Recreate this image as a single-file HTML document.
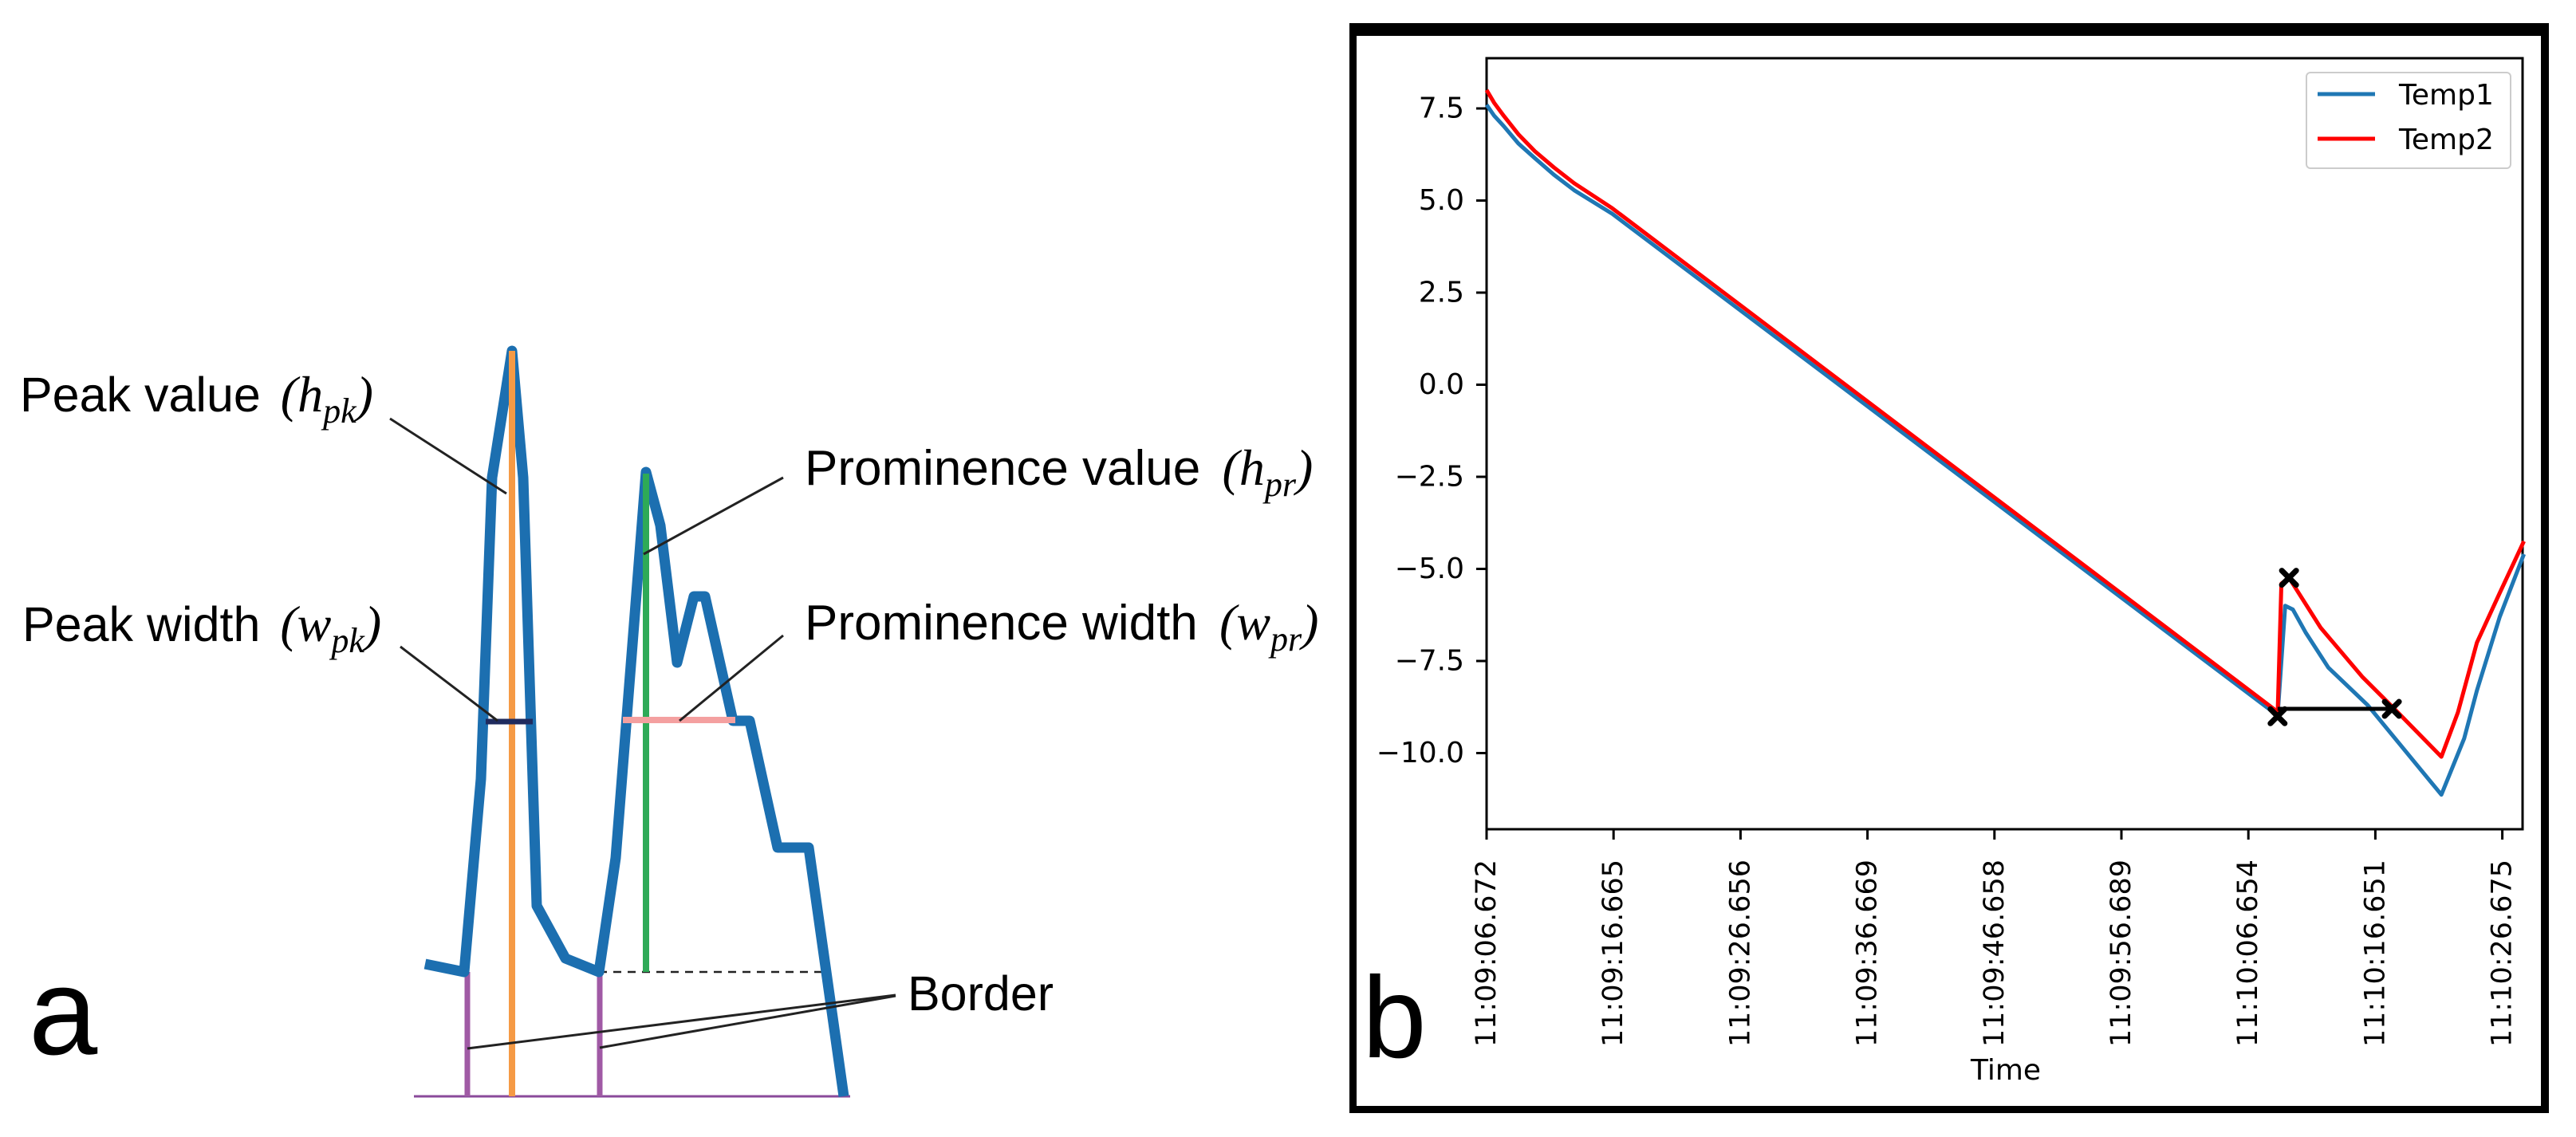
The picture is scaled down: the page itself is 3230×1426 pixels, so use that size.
<!DOCTYPE html>
<html><head><meta charset="utf-8"><style>
html,body{margin:0;padding:0;background:#fff;}
svg{display:block;}
.sans{font-family:"Liberation Sans",sans-serif;}
.dv{font-family:"DejaVu Sans","Liberation Sans",sans-serif;}
.math{font-family:"Liberation Serif",serif;font-style:italic;}
</style></head><body>
<svg id="fig" width="3230" height="1426" viewBox="0 0 3230 1426" xmlns="http://www.w3.org/2000/svg">
<g id="panelA">
  <line x1="519" y1="1375" x2="1066" y2="1375" stroke="#8A4A9A" stroke-width="3"/>
  <line x1="751" y1="1219" x2="1030" y2="1219" stroke="#222" stroke-width="2.5" stroke-dasharray="10,8"/>
  <line x1="586" y1="1219" x2="586" y2="1375" stroke="#A05AA5" stroke-width="7"/>
  <line x1="752" y1="1219" x2="752" y2="1375" stroke="#A05AA5" stroke-width="7"/>
  <polyline id="sigA" fill="none" stroke="#1C6FB0" stroke-width="13" stroke-linejoin="round"/>
  <line x1="642" y1="440" x2="642" y2="1375" stroke="#F59A45" stroke-width="8"/>
  <line x1="810" y1="594" x2="810" y2="1219" stroke="#2EAA57" stroke-width="8"/>
  <line x1="609" y1="905" x2="668" y2="905" stroke="#1F2B5E" stroke-width="7"/>
  <line x1="781" y1="903" x2="922" y2="903" stroke="#F4A0A0" stroke-width="8"/>
  <g stroke="#222" stroke-width="3">
    <line x1="489" y1="525" x2="635" y2="619"/>
    <line x1="502" y1="811" x2="624" y2="904"/>
    <line x1="982" y1="599" x2="807" y2="695"/>
    <line x1="982" y1="797" x2="852" y2="904"/>
    <line x1="586" y1="1315" x2="1123" y2="1248"/>
    <line x1="752" y1="1314" x2="1123" y2="1249"/>
  </g>
  <text x="25" y="516" font-size="61" class="sans">Peak value <tspan class="math" font-size="64" dx="8">(h<tspan font-size="44" dy="14">pk</tspan><tspan dy="-14">)</tspan></tspan></text>
  <text x="28" y="804" font-size="61" class="sans">Peak width <tspan class="math" font-size="64" dx="8">(w<tspan font-size="44" dy="14">pk</tspan><tspan dy="-14">)</tspan></tspan></text>
  <text x="1009" y="608" font-size="62" class="sans">Prominence value <tspan class="math" font-size="64" dx="10">(h<tspan font-size="44" dy="14">pr</tspan><tspan dy="-14">)</tspan></tspan></text>
  <text x="1009" y="802" font-size="62" class="sans">Prominence width <tspan class="math" font-size="64" dx="10">(w<tspan font-size="44" dy="14">pr</tspan><tspan dy="-14">)</tspan></tspan></text>
  <text x="1138" y="1267" font-size="61" class="sans">Border</text>
  <text x="36" y="1322" font-size="155" class="sans">a</text>
</g>
<g id="panelB">
  <rect x="1692" y="29" width="1504" height="16" fill="#000"/>
  <rect x="1692" y="29" width="9" height="1367" fill="#000"/>
  <rect x="3186" y="29" width="10" height="1367" fill="#000"/>
  <rect x="1692" y="1387" width="1504" height="9" fill="#000"/>
  <rect x="1864" y="73" width="1299" height="967" fill="none" stroke="#000" stroke-width="3"/>
  <g id="yticks"></g><g id="xticks"></g><g id="series"></g>
  <text x="2515" y="1354" font-size="36" text-anchor="middle" class="dv">Time</text>
  <text x="1708" y="1326" font-size="145" class="sans">b</text>
  <g>
    <rect x="2892" y="91" width="256" height="120" rx="5" fill="#fff" stroke="#ccc" stroke-width="2"/>
    <line x1="2906" y1="118" x2="2978" y2="118" stroke="#1f77b4" stroke-width="5"/>
    <text x="3008" y="131" font-size="36" class="dv">Temp1</text>
    <line x1="2906" y1="174" x2="2978" y2="174" stroke="#ff0000" stroke-width="5"/>
    <text x="3008" y="187" font-size="36" class="dv">Temp2</text>
  </g>
</g>
</svg>
<script>
// Panel a diagram points
const sigAx = [533,582,603,617,642,656,673,709,751,772,810,828,849,870,884,919,940,975,1014,1058];
const sigAy = [1209,1219,977,599,440,599,1136,1202,1219,1076,592,659,831,748,748,904,904,1063,1063,1375];
// Panel b data
const xTickLabels = ["11:09:06.672","11:09:16.665","11:09:26.656","11:09:36.669","11:09:46.658","11:09:56.689","11:10:06.654","11:10:16.651","11:10:26.675"];
const xTickSecs = [0,10,20,30,40,50,60,70,80];
const yTicks = [7.5,5.0,2.5,0.0,-2.5,-5.0,-7.5,-10.0];
const temp1T = [0,0.6,1.35,2.5,3.8,5.3,6.9,9.9,62.0,62.3,62.9,63.5,64.5,66.3,69.4,75.2,77.0,78.0,79.8,81.7];
const temp1V = [7.6,7.3,7.02,6.55,6.15,5.7,5.28,4.64,-8.9,-9.0,-6.0,-6.1,-6.72,-7.68,-8.7,-11.13,-9.6,-8.3,-6.3,-4.6];
const temp2T = [0,0.6,1.35,2.5,3.8,5.3,6.9,9.9,62.0,62.3,62.6,63.2,65.7,69.0,71.5,75.2,76.5,78.0,79.8,81.7];
const temp2V = [8.0,7.65,7.3,6.8,6.34,5.9,5.47,4.79,-8.8,-9.0,-5.4,-5.24,-6.6,-7.94,-8.8,-10.1,-8.9,-7.0,-5.65,-4.25];
const markerT = [62.3,63.2,71.3];
const markerV = [-9.0,-5.24,-8.8];
const widthLineT = [62.3,71.3];
const widthLineV = -8.8;

const NS="http://www.w3.org/2000/svg";
const xs = t => 1864 + t*15.92;
const ys = v => 136 + (7.5 - v)*46.2;
function mk(tag, attrs, parent){const e=document.createElementNS(NS,tag);for(const k in attrs)e.setAttribute(k,attrs[k]);parent.appendChild(e);return e;}

document.getElementById('sigA').setAttribute('points', sigAx.map((x,i)=>x+','+sigAy[i]).join(' '));

const yg=document.getElementById('yticks');
yTicks.forEach(v=>{
  const y=ys(v);
  const l=mk('line',{x1:1851,y1:y,x2:1864,y2:y,stroke:'#000','stroke-width':3},yg);
  
  
  const t=mk('text',{x:1836,y:y,'font-size':36,'text-anchor':'end','dominant-baseline':'central',class:'dv'},yg);
  t.textContent=(v<0?'\u2212':'')+Math.abs(v).toFixed(1);
  
  
});
const xg=document.getElementById('xticks');
xTickSecs.forEach((s,i)=>{
  const x=xs(s);
  const l=mk('line',{x1:x,y1:1040,x2:x,y2:1053,stroke:'#000','stroke-width':3},xg);
  
  
  const t=mk('text',{x:0,y:0,'font-size':35,'text-anchor':'end','dominant-baseline':'central',class:'dv',transform:'translate('+x+',1078) rotate(-90)'},xg);
  t.textContent=xTickLabels[i];
  
  
});
const sg=document.getElementById('series');
const p1=mk('polyline',{points:temp1T.map((t,i)=>xs(t)+','+ys(temp1V[i])).join(' '),fill:'none',stroke:'#1f77b4','stroke-width':5,'stroke-linejoin':'round'},sg);


const p2=mk('polyline',{points:temp2T.map((t,i)=>xs(t)+','+ys(temp2V[i])).join(' '),fill:'none',stroke:'#ff0000','stroke-width':5,'stroke-linejoin':'round'},sg);


const wl=mk('line',{x1:xs(widthLineT[0]),y1:ys(widthLineV),x2:xs(widthLineT[1]),y2:ys(widthLineV),stroke:'#000','stroke-width':5},sg);


markerT.forEach((t,i)=>{
  const x=xs(t),y=ys(markerV[i]),r=9;
  const m=mk('path',{d:`M${x-r},${y-r}L${x+r},${y+r}M${x+r},${y-r}L${x-r},${y+r}`,stroke:'#000','stroke-width':7,'stroke-linecap':'round'},sg);
  
  
});
</script>
</body></html>
